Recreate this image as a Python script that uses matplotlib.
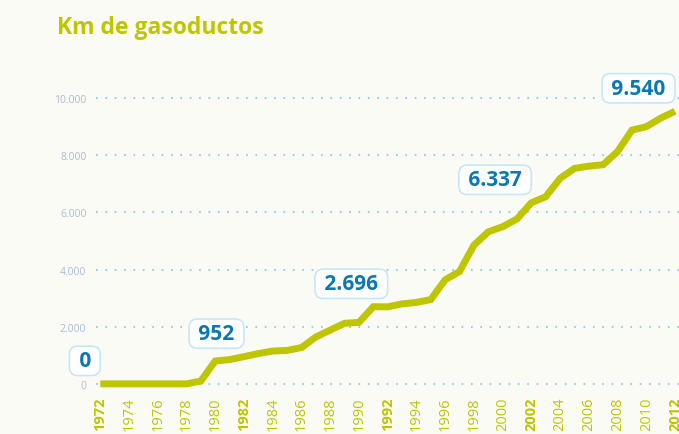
import matplotlib.pyplot as plt

plt.rcParams['font.family'] = ['Open Sans', 'DejaVu Sans']

years = list(range(1972, 2013))
km = [0, 0, 0, 0, 0, 0, 0, 100, 800, 850,
      952, 1060, 1150, 1170, 1270, 1640, 1880, 2120, 2150, 2700,
      2696, 2800, 2850, 2950, 3640, 3930, 4850, 5320, 5500, 5770,
      6337, 6550, 7190, 7540, 7620, 7670, 8130, 8880, 9000, 9300,
      9540]

label_years = [1972, 1982, 1992, 2002, 2012]
label_texts = ["0", "952", "2.696", "6.337", "9.540"]

y_ticks = [0, 2000, 4000, 6000, 8000, 10000]
y_tick_labels = ["0", "2.000", "4.000", "6.000", "8.000", "10.000"]

green = "#bdc600"
blue = "#0a79b3"
bg = "#fbfbf6"

fig = plt.figure(figsize=(6.79, 4.35), dpi=100, facecolor=bg)
ax = fig.add_axes([96 / 679, 43 / 435, 579 / 679, 302 / 435])
ax.set_facecolor(bg)

for v in y_ticks:
    ax.axhline(v, color="#8dd2ef", linewidth=1.5,
               linestyle=(0, (0.8, 3.7)), zorder=1, clip_on=False,
               xmax=583 / 579)

ax.plot(years, km, color=green, linewidth=5, solid_joinstyle="miter",
        solid_capstyle="butt", zorder=3, clip_on=False)

for yr, txt in zip(label_years, label_texts):
    val = km[years.index(yr)]
    ax.annotate(" " + txt + " ", xy=(yr, val), xytext=(-3, 9),
                textcoords="offset points", ha="right", va="bottom",
                fontsize=15, fontweight="bold", color=blue, zorder=5,
                annotation_clip=False,
                bbox=dict(boxstyle="round,pad=0.2,rounding_size=0.4",
                          facecolor="white", edgecolor="#c6e7f7",
                          linewidth=1.2))

ax.set_xlim(1971.7, 2012.0)
ax.set_ylim(-250, 10320)

ax.set_yticks(y_ticks)
ax.set_yticklabels(y_tick_labels)
ax.set_xticks(years[::2])
ax.set_xticklabels([str(y) for y in years[::2]], rotation=90)

for lbl in ax.get_xticklabels():
    lbl.set_color(green)
    lbl.set_fontsize(10.5)
    if int(lbl.get_text()) in label_years:
        lbl.set_fontweight("bold")
for lbl in ax.get_yticklabels():
    lbl.set_color("#a9bcd6")
    lbl.set_fontsize(7.5)

ax.tick_params(axis="both", length=0)
ax.tick_params(axis="y", pad=7)
ax.tick_params(axis="x", pad=4)

for s in ax.spines.values():
    s.set_visible(False)

fig.text(57 / 679, 1 - 34 / 435, "Km de gasoductos", color=green,
         fontsize=16.5, fontweight="bold", ha="left", va="baseline")

plt.savefig("out.png", dpi=100, facecolor=bg)
